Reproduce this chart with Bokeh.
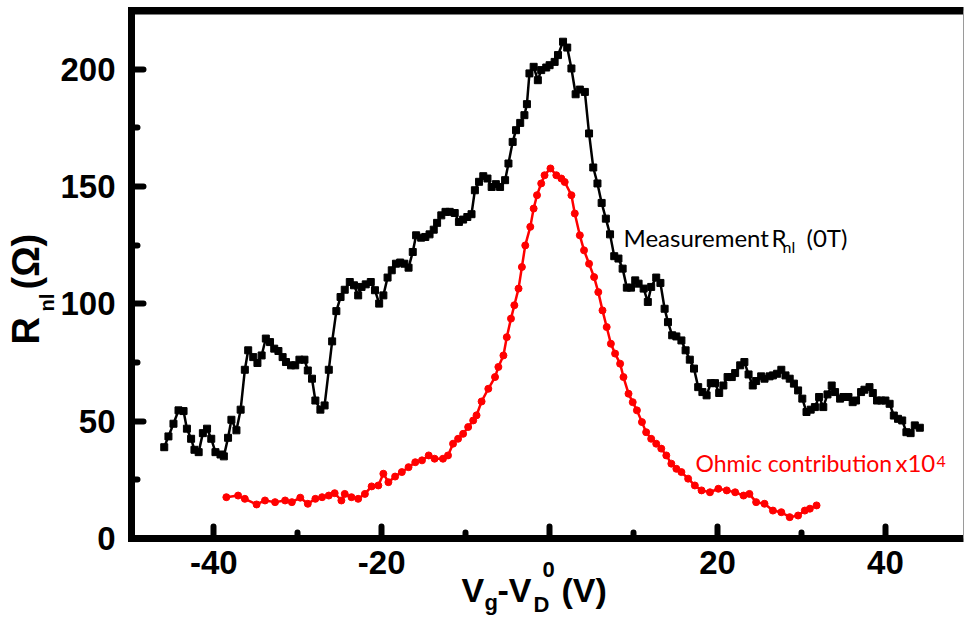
from bokeh.plotting import figure
from bokeh.models import Range1d, FixedTicker, Label
from bokeh.embed import file_html
from bokeh.resources import INLINE

# ---------------- data ----------------
meas_v = [-45.9, -45.4, -44.8, -44.2, -43.6, -43.2, -42.7, -42.3, -41.8, -41.3,
          -40.8, -40.3, -39.8, -39.2, -38.8, -38.3, -37.9, -37.3, -36.8, -36.3,
          -35.9, -35.3, -34.8, -34.3, -33.8, -33.3, -32.8, -32.3, -31.8, -31.4,
          -30.8, -30.3, -29.8, -29.2, -28.8, -28.3, -27.9, -27.3, -26.8, -26.3,
          -25.9, -25.4, -24.9, -24.4, -23.8, -23.3, -22.8, -22.4, -21.9, -21.3,
          -20.8, -20.3, -19.8, -19.3, -18.8, -18.3, -17.8, -17.3, -16.8, -16.3,
          -15.9, -15.3, -14.8, -14.3, -13.8, -13.4, -12.9, -12.4, -11.9, -11.3,
          -10.8, -10.3, -9.8, -9.3, -8.9, -8.4, -7.9, -7.4, -6.9, -6.4,
          -5.9, -5.3, -4.9, -4.4, -4.0, -3.5, -3.0, -2.7, -2.4, -1.9,
          -1.4, -1.0, -0.4, 0.0, 0.6, 1.0, 1.6, 2.1, 2.6, 3.1,
          3.6, 4.2, 4.7, 5.2, 5.7, 6.2, 6.7, 7.2, 7.7, 8.2,
          8.7, 9.2, 9.7, 10.2, 10.6, 11.2, 11.7, 12.1, 12.7, 13.2,
          13.7, 14.1, 14.6, 15.1, 15.7, 16.2, 16.7, 17.2, 17.7, 18.2,
          18.7, 19.2, 19.7, 20.2, 20.7, 21.2, 21.7, 22.1, 22.7, 23.2,
          23.7, 24.2, 24.6, 25.2, 25.6, 26.2, 26.6, 27.1, 27.6, 28.1,
          28.6, 29.1, 29.6, 30.1, 30.6, 31.1, 31.6, 32.1, 32.6, 33.1,
          33.6, 34.0, 34.6, 35.0, 35.6, 36.1, 36.5, 37.1, 37.5, 38.1,
          38.5, 39.0, 39.5, 40.0, 40.5, 41.0, 41.5, 42.0, 42.5, 43.0,
          43.5, 44.1]
meas_r = [38.9, 43.5, 48.9, 54.6, 54.3, 46.8, 42.5, 37.8, 36.8, 44.9,
          46.8, 42.5, 36.8, 35.8, 35.0, 42.9, 50.6, 46.1, 54.9, 71.9,
          80.2, 77.3, 74.8, 78.0, 85.2, 83.7, 80.9, 79.9, 77.3, 75.2,
          73.8, 73.8, 76.2, 76.2, 71.6, 68.1, 58.8, 54.9, 56.7, 71.9,
          84.0, 96.9, 102.9, 106.0, 109.3, 107.9, 103.6, 107.2, 108.3, 109.3,
          105.8, 100.1, 103.6, 111.2, 114.3, 117.1, 117.6, 117.1, 115.4, 122.1,
          129.2, 128.2, 128.5, 129.6, 131.6, 134.5, 137.7, 139.2, 139.2, 138.7,
          134.9, 135.9, 137.0, 138.2, 148.4, 152.0, 154.4, 153.4, 149.8, 151.0,
          149.8, 152.7, 159.8, 169.0, 174.0, 177.1, 180.4, 185.1, 198.2, 201.0,
          195.3, 199.6, 200.7, 201.7, 203.1, 206.0, 211.7, 209.2, 200.3, 189.3,
          191.3, 190.3, 172.6, 158.1, 151.3, 143.0, 136.3, 129.6, 120.3, 119.3,
          115.0, 106.9, 106.9, 110.0, 108.6, 106.5, 100.8, 107.2, 111.2, 108.9,
          97.9, 92.2, 86.6, 86.1, 84.4, 80.2, 76.2, 72.4, 64.5, 62.4,
          61.0, 66.2, 66.2, 62.0, 65.2, 68.8, 68.8, 70.5, 73.8, 75.2,
          69.9, 65.2, 67.1, 69.1, 68.1, 69.1, 69.5, 70.2, 71.9, 69.5,
          68.1, 66.0, 63.1, 59.6, 53.9, 54.9, 56.0, 60.3, 56.0, 61.4,
          65.2, 62.4, 59.6, 60.3, 60.3, 58.1, 58.8, 62.4, 63.4, 64.5,
          62.0, 58.8, 58.8, 58.8, 57.4, 52.4, 51.0, 50.3, 45.3, 44.9,
          48.2, 47.2]

ohm_v = [-38.5, -37.1, -36.3, -34.9, -33.9, -32.7, -31.5, -30.7, -29.7, -28.8,
         -27.9, -27.1, -26.3, -25.6, -24.8, -24.4, -23.6, -22.8, -22.0, -21.2,
         -20.4, -19.8, -19.2, -18.4, -17.6, -16.8, -16.0, -15.2, -14.4, -13.7,
         -12.7, -12.1, -11.5, -10.9, -10.3, -9.7, -9.1, -8.7, -8.1, -7.3,
         -6.5, -6.1, -5.5, -5.1, -4.6, -4.2, -3.7, -3.3, -2.9, -2.3,
         -1.9, -1.5, -1.0, -0.6, 0.1, 0.8, 1.4, 1.8, 2.6, 3.0,
         3.6, 4.1, 4.7, 5.3, 5.8, 6.3, 6.8, 7.3, 7.8, 8.4,
         8.8, 9.4, 9.9, 10.4, 11.0, 11.5, 12.1, 12.7, 13.3, 13.9,
         14.5, 15.1, 15.7, 16.5, 17.3, 18.1, 19.1, 20.1, 21.1, 22.1,
         23.1, 23.8, 24.6, 25.6, 26.6, 27.6, 28.6, 29.6, 30.4, 31.0,
         31.8]
ohm_r = [17.6, 18.3, 16.9, 14.5, 16.2, 15.5, 16.2, 15.5, 17.4, 14.8,
         16.9, 17.6, 18.3, 19.3, 16.2, 19.0, 17.6, 16.9, 19.0, 22.2,
         22.6, 27.6, 24.0, 26.4, 28.3, 30.4, 32.5, 33.3, 35.4, 34.0,
         34.0, 35.4, 40.4, 42.5, 44.6, 47.5, 50.3, 52.5, 58.4, 63.8,
         68.8, 73.1, 78.0, 85.8, 93.7, 99.4, 106.5, 115.7, 124.9, 132.8,
         140.6, 146.3, 151.3, 154.8, 157.7, 154.8, 153.4, 151.9, 146.3, 138.5,
         129.2, 122.8, 117.1, 111.4, 105.0, 97.2, 90.1, 83.0, 78.8, 74.5,
         68.8, 61.7, 58.1, 54.6, 49.6, 45.3, 42.5, 40.4, 38.3, 35.4,
         31.9, 29.7, 28.3, 25.5, 22.6, 20.5, 19.7, 21.2, 20.5, 19.7,
         18.3, 19.0, 15.5, 14.8, 11.9, 11.2, 9.1, 9.8, 11.9, 12.7,
         14.1]

x_ticks = [-40, -20, 0, 20, 40]
x_tick_labels = ["-40", "-20", "", "20", "40"]   # the 0 spot is taken by the title's superscript
x_minor = [-30, -10, 10, 30]
y_ticks = [0, 50, 100, 150, 200]
y_minor = [25, 75, 125, 175]

# ---------------- geometry ----------------
W, H = 967, 621
FL, FR, FT, FB = 131, 963, 10, 538      # plot box edges in canvas pixels
X0, X1 = -49.8, 49.3                    # data limits of the plot box
Y0, Y1 = 0, 225
SX = (X1 - X0) / (FR - FL)
SY = (Y1 - Y0) / (FB - FT)
XA, XB = X0 - FL * SX, X0 + (W - FL) * SX
YA, YB = Y0 - (H - FB) * SY, Y1 + FT * SY


def dx(px):
    return XA + px * SX


def dy(py):
    return YA + (H - py) * SY


p = figure(width=W, height=H, x_range=Range1d(XA, XB), y_range=Range1d(YA, YB),
           output_backend="svg", toolbar_location=None,
           min_border_left=0, min_border_right=0, min_border_top=0, min_border_bottom=0)
p.xgrid.visible = False
p.ygrid.visible = False
p.outline_line_color = None
p.background_fill_color = "white"
p.border_fill_color = "white"

xa = p.xaxis[0]
ya = p.yaxis[0]
xa.fixed_location = Y0
ya.fixed_location = X0
xa.bounds = (X0, X1)
ya.bounds = (Y0, Y1)
xa.ticker = FixedTicker(ticks=x_ticks, minor_ticks=x_minor)
ya.ticker = FixedTicker(ticks=y_ticks, minor_ticks=y_minor)
xa.major_label_overrides = {t: s for t, s in zip(x_ticks, x_tick_labels)}
for ax in (xa, ya):
    ax.axis_line_color = None
    ax.major_tick_in = 12
    ax.major_tick_out = 0
    ax.minor_tick_in = 6
    ax.minor_tick_out = 0
    ax.major_tick_line_width = 6
    ax.minor_tick_line_width = 6
    ax.major_tick_line_cap = "round"
    ax.minor_tick_line_cap = "round"
    ax.major_tick_line_color = "black"
    ax.minor_tick_line_color = "black"
    ax.major_label_text_font = "Liberation Sans"
    ax.major_label_text_font_size = "33px"
    ax.major_label_text_font_style = "bold"
    ax.major_label_text_color = "black"
xa.major_label_standoff = 12
ya.major_label_standoff = 16

# frame: thick left / bottom / top bars (filled), thin grey right line
p.quad(left=[dx(FL - 3.5)], right=[dx(FL + 3.5)], bottom=[dy(FB + 3.5)], top=[dy(FT - 3.5)],
       fill_color="black", line_color=None)
p.quad(left=[dx(FL - 3.5)], right=[X1], bottom=[dy(FB + 3.5)], top=[dy(FB - 3.5)],
       fill_color="black", line_color=None)
p.quad(left=[dx(FL - 3.5)], right=[X1], bottom=[dy(FT + 4)], top=[dy(FT - 3.5)],
       fill_color="black", line_color=None)
p.segment(x0=[X1], y0=[Y0], x1=[X1], y1=[Y1], line_color="#9a9a9a", line_width=1)

# data
p.line(meas_v, meas_r, color="black", line_width=2.5)
p.scatter(meas_v, meas_r, marker="square", size=7, color="black")
p.line(ohm_v, ohm_r, color="#ff0000", line_width=2.5)
p.scatter(ohm_v, ohm_r, marker="circle", size=7, color="#ff0000")

SHIFT = 0.4  # Bokeh places the alphabetic baseline about this many ems below the anchor


def lab(text, px, py, size, color="black", bold=False, font="Lato", angle=0):
    if angle == 90:
        px = px - SHIFT * size
    else:
        py = py - SHIFT * size
    p.add_layout(Label(x=dx(px), y=dy(py), text=text, text_font=font,
                       text_font_size=f"{size}px",
                       text_font_style="bold" if bold else "normal",
                       text_color=color, text_align="left",
                       text_baseline="alphabetic", angle=angle, angle_units="deg"))


# in-plot annotations (px, baseline py)
lab("Measurement", 623, 247, 24)
lab("R", 771, 247, 24)
lab("nl", 782, 252, 16)
lab("(0T)", 806, 247, 24)
lab("Ohmic contribution", 695, 472, 23, color="#ff0000")
lab("x10", 895, 472, 24, color="#ff0000")
lab("4", 936, 467, 16, color="#ff0000")

# axis titles
AF = "Liberation Sans"
lab("V", 461, 603, 34, bold=True, font=AF)
lab("g", 484, 611, 22, bold=True, font=AF)
lab("-V", 497, 603, 34, bold=True, font=AF)
lab("D", 533, 613, 22, bold=True, font=AF)
lab("0", 542, 578, 22, bold=True, font=AF)
lab("(V)", 561, 603, 34, bold=True, font=AF)

lab("R", 41, 344, 38, bold=True, font=AF, angle=90)
lab("nl", 54, 311, 20, bold=True, font=AF, angle=90)
lab("(\u03a9)", 41, 289, 38, bold=True, font=AF, angle=90)

open("out.html", "w").write(file_html(p, INLINE))
